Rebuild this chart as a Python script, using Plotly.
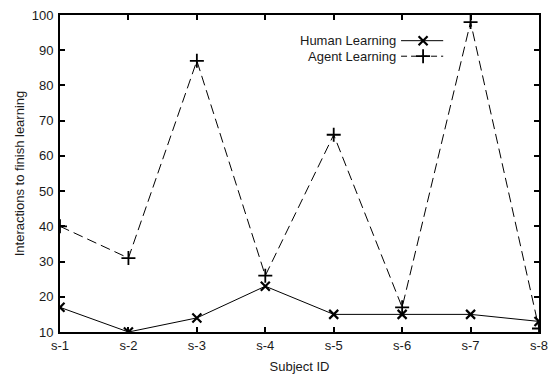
import plotly.graph_objects as go

subjects = ["s-1", "s-2", "s-3", "s-4", "s-5", "s-6", "s-7", "s-8"]
human_learning = [17, 10, 14, 23, 15, 15, 15, 13]
agent_learning = [40, 31, 87, 26, 66, 17, 98, 11]
y_ticks = [10, 20, 30, 40, 50, 60, 70, 80, 90, 100]

FONT = "Liberation Sans, Arial, Helvetica, sans-serif"
TEXT = "#1a1a1a"
idx = list(range(len(subjects)))

fig = go.Figure()
fig.add_trace(go.Scatter(
    x=idx, y=agent_learning, mode="lines+markers", name="Agent Learning",
    line=dict(color="black", width=1, dash="10px,5px"),
    marker=dict(symbol="cross-thin", size=10, line=dict(color="black", width=1.8)),
    showlegend=False,
))
fig.add_trace(go.Scatter(
    x=idx, y=human_learning, mode="lines+markers", name="Human Learning",
    line=dict(color="black", width=1),
    marker=dict(symbol="x-thin", size=9, line=dict(color="black", width=2.2)),
    showlegend=False,
))

# Legend drawn in plot-fraction coordinates: label on the left, sample on the right
legend_rows = [
    ("Human Learning", 0.919, "solid", "x-thin", 9, 2.2),
    ("Agent Learning", 0.870, "6px,4px", "cross-thin", 10, 1.8),
]
for label, ly, dash, sym, msize, mw in legend_rows:
    fig.add_trace(go.Scatter(
        x=[0.712, 0.80], y=[ly, ly], mode="lines", xaxis="x2", yaxis="y2",
        line=dict(color="black", width=1, dash=dash), showlegend=False, hoverinfo="skip",
    ))
    fig.add_trace(go.Scatter(
        x=[0.758], y=[ly], mode="markers", xaxis="x2", yaxis="y2",
        marker=dict(symbol=sym, size=msize, line=dict(color="black", width=mw)),
        showlegend=False, hoverinfo="skip",
    ))
    fig.add_annotation(
        x=0.706, y=ly, xref="x2", yref="y2", text=label, showarrow=False,
        xanchor="right", yanchor="middle", font=dict(family=FONT, size=13, color=TEXT),
    )

axis_common = dict(
    showline=True, linecolor="black", linewidth=2, mirror="ticks",
    ticks="inside", ticklen=5, tickwidth=1.5, tickcolor="black",
    showgrid=False, zeroline=False, automargin=False,
    tickfont=dict(family=FONT, size=13, color=TEXT),
)

fig.update_layout(
    width=557, height=375,
    margin=dict(l=60, r=18, t=15, b=43),
    paper_bgcolor="white", plot_bgcolor="white",
    font=dict(family=FONT, size=13, color=TEXT),
    xaxis=dict(
        **axis_common, range=[0, 7], tickmode="array", tickvals=idx, ticktext=subjects,
        title=dict(text="Subject ID", font=dict(family=FONT, size=13, color=TEXT), standoff=10),
    ),
    yaxis=dict(
        **axis_common, range=[10, 100], tickmode="array", tickvals=y_ticks,
        ticklabelstandoff=2,
        title=dict(text="Interactions to finish learning", font=dict(family=FONT, size=13, color=TEXT), standoff=4),
    ),
    xaxis2=dict(overlaying="x", range=[0, 1], visible=False),
    yaxis2=dict(overlaying="y", range=[0, 1], visible=False),
)

fig.write_html("out.html")
